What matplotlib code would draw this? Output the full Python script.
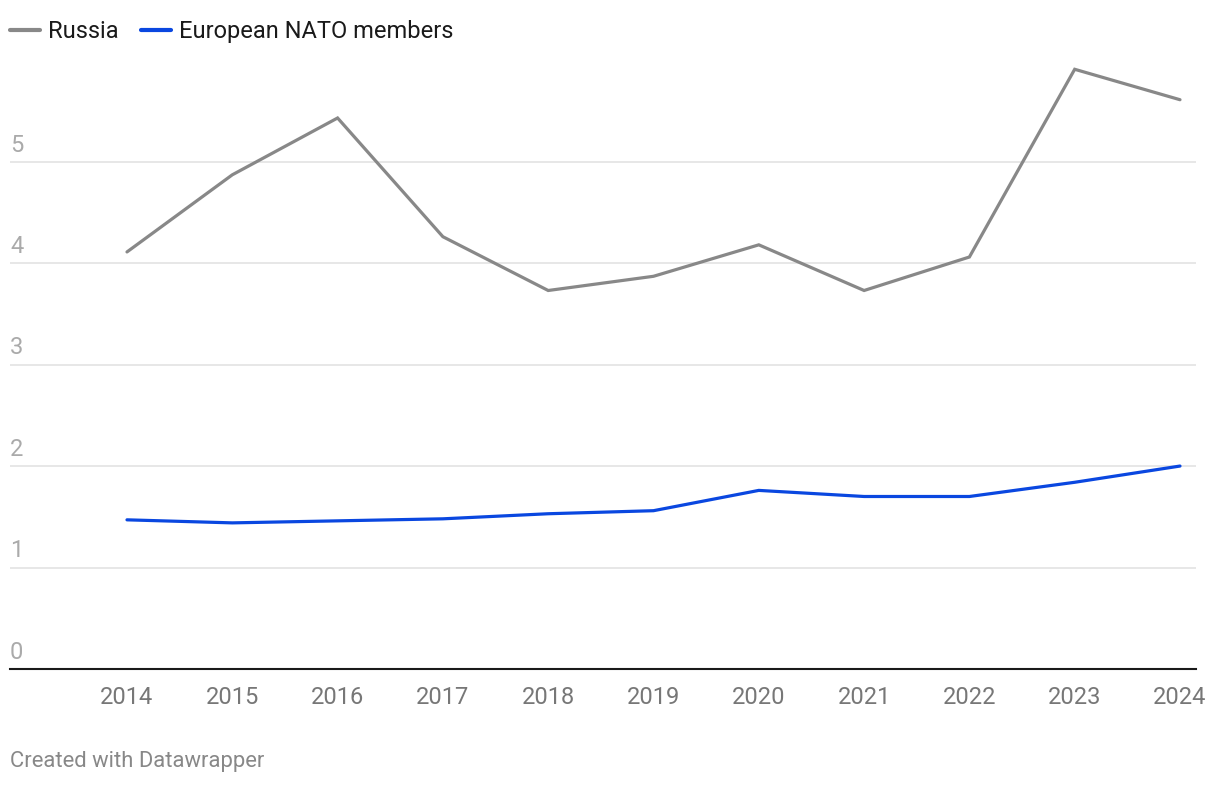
import matplotlib.pyplot as plt
import matplotlib.transforms as mtransforms

years = [2014, 2015, 2016, 2017, 2018, 2019, 2020, 2021, 2022, 2023, 2024]
russia = [4.11, 4.87, 5.43, 4.26, 3.73, 3.87, 4.18, 3.73, 4.06, 5.91, 5.61]
nato = [1.47, 1.44, 1.46, 1.48, 1.53, 1.56, 1.76, 1.70, 1.70, 1.84, 2.00]
y_ticks = [0, 1, 2, 3, 4, 5]

plt.rcParams['font.family'] = ['Roboto', 'DejaVu Sans']

fig = plt.figure(figsize=(12.2, 7.86), dpi=100)
ax = fig.add_axes([10 / 1220, 117 / 786, 1186 / 1220, 619 / 786])

ax.plot(years, russia, color='#888888', linewidth=2.3, label='Russia',
        solid_joinstyle='miter', solid_capstyle='round')
ax.plot(years, nato, color='#0a47e0', linewidth=2.3, label='European NATO members',
        solid_joinstyle='miter', solid_capstyle='round')

ax.set_xlim(2012.889, 2024.152)
ax.set_ylim(0, 6.10)

for s in ['top', 'right', 'left']:
    ax.spines[s].set_visible(False)
ax.spines['bottom'].set_color('#1a1a1a')
ax.spines['bottom'].set_linewidth(1.5)

ax.set_xticks(years)
ax.set_xticklabels([str(y) for y in years])
ax.tick_params(axis='x', length=0, pad=12, labelsize=17, labelcolor='#777777')

ax.set_yticks(y_ticks)
ax.set_yticklabels([])
ax.tick_params(axis='y', length=0)
ax.yaxis.grid(True, color='#e3e3e3', linewidth=1.2)
ax.set_axisbelow(True)

trans = mtransforms.blended_transform_factory(ax.transAxes, ax.transData)
for v in y_ticks:
    ax.text(0, v + 0.05, str(v), transform=trans, ha='left', va='bottom',
            fontsize=17, color='#aaaaaa')

leg = ax.legend(loc='upper left', bbox_to_anchor=(10 / 1220, 1 - 20 / 786),
                bbox_transform=fig.transFigure, ncol=2, frameon=False,
                fontsize=17, handlelength=1.28, handletextpad=0.33,
                columnspacing=0.95, borderaxespad=0, borderpad=0)
for t in leg.get_texts():
    t.set_color('#1a1a1a')
for h in leg.legend_handles:
    h.set_linewidth(3)

fig.text(10 / 1220, 1 - 762 / 786, 'Created with Datawrapper', ha='left',
         va='center', fontsize=15.8, color='#888888')

fig.savefig('out.png', dpi=100, facecolor='white')
